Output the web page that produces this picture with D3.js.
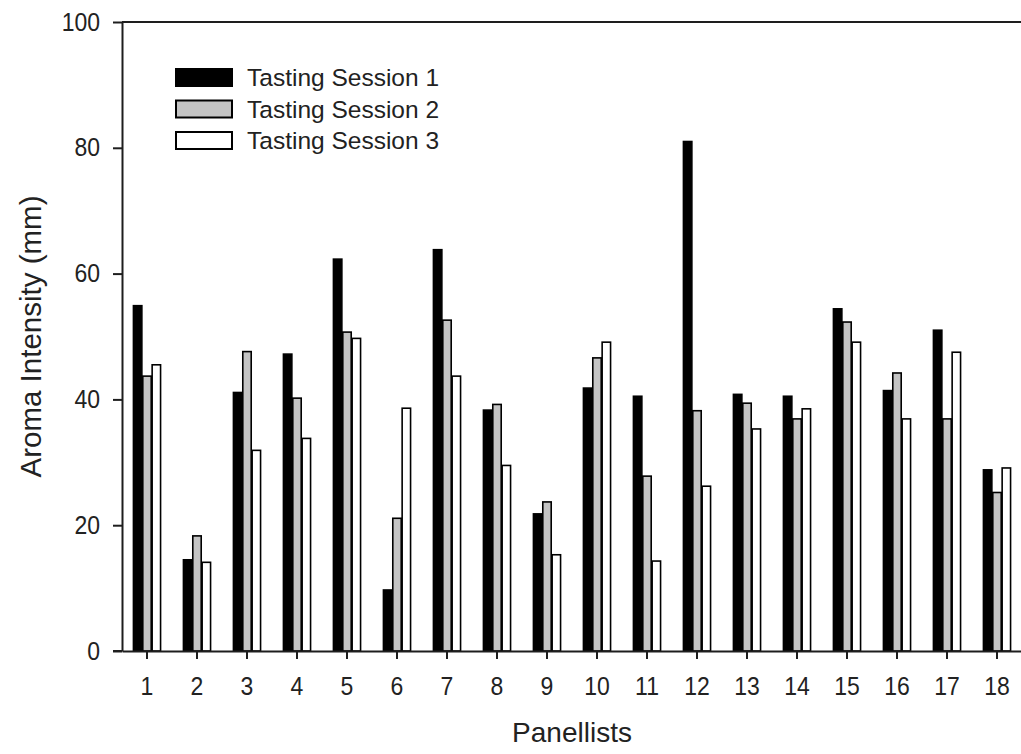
<!DOCTYPE html>
<html>
<head>
<meta charset="utf-8">
<script src="https://cdn.jsdelivr.net/npm/d3@7"></script>
<style>
    body { margin: 0; background: #fff; }
    svg { display: block; font-family: "Liberation Sans", Arial, sans-serif; }
</style>
</head>
<body>
<div id="chart"></div>
<script>
'use strict';

const panellists = ['1', '2', '3', '4', '5', '6', '7', '8', '9', '10', '11', '12', '13', '14', '15', '16', '17', '18'];
const sessionNames = ['Tasting Session 1', 'Tasting Session 2', 'Tasting Session 3'];
const session1 = [54.9, 14.5, 41.1, 47.2, 62.3, 9.7, 63.8, 38.3, 21.8, 41.8, 40.5, 81.0, 40.8, 40.5, 54.4, 41.4, 51.0, 28.8];
const session2 = [43.7, 18.3, 47.6, 40.2, 50.7, 21.1, 52.6, 39.2, 23.7, 46.6, 27.8, 38.2, 39.4, 36.9, 52.3, 44.2, 36.9, 25.2];
const session3 = [45.5, 14.1, 31.9, 33.8, 49.7, 38.6, 43.7, 29.5, 15.3, 49.1, 14.3, 26.2, 35.3, 38.5, 49.1, 36.9, 47.5, 29.1];
const yTicks = [0, 20, 40, 60, 80, 100];

const sessionFills = ['#000000', '#c4c4c4', '#ffffff'];
const lineColour = '#1e1e1e';
const textColour = '#222222';

const width = 1021;
const height = 754;
const margin = { top: 22, right: -1, bottom: 103, left: 122 };
const chartWidth = width - margin.left - margin.right;
const chartHeight = height - margin.top - margin.bottom;

// tick labels in the original look a little stretched vertically
const tickStretch = 1.1;

const svg = d3.select('#chart')
    .append('svg')
    .attr('width', width)
    .attr('height', height);

const chart = svg.append('g')
    .attr('transform', `translate(${margin.left},${margin.top})`);

// scales
const xScale = d3.scaleBand()
    .domain(panellists)
    .range([0, chartWidth])
    .paddingInner(0.42)
    .paddingOuter(0.21);

const xInner = d3.scaleBand()
    .domain(sessionNames)
    .range([0, xScale.bandwidth()])
    .padding(0.1);

const yScale = d3.scaleLinear()
    .domain([0, 100])
    .range([chartHeight, 0]);

// one row per panellist, one value per session
const rows = panellists.map(function (p, i) {
    return {
        panellist: p,
        values: [session1[i], session2[i], session3[i]].map(function (v, j) {
            return { session: sessionNames[j], value: v, index: j };
        })
    };
});

// bars
const groups = chart.selectAll('g.group')
    .data(rows)
    .join('g')
    .attr('class', 'group')
    .attr('transform', function (d) {
        return `translate(${xScale(d.panellist)},0)`;
    });

groups.selectAll('rect')
    .data(function (d) {
        return d.values;
    })
    .join('rect')
    .attr('x', function (d) {
        return xInner(d.session);
    })
    .attr('y', function (d) {
        return yScale(d.value);
    })
    .attr('width', xInner.bandwidth())
    .attr('height', function (d) {
        return chartHeight - yScale(d.value);
    })
    .attr('fill', function (d) {
        return sessionFills[d.index];
    })
    .attr('stroke', '#000')
    .attr('stroke-width', 1.6);

// axes
const xAxis = d3.axisBottom(xScale)
    .tickSize(8)
    .tickPadding(18)
    .tickSizeOuter(0);

const yAxis = d3.axisLeft(yScale)
    .tickValues(yTicks)
    .tickSize(9)
    .tickPadding(13)
    .tickSizeOuter(0);

const xAxisG = chart.append('g')
    .attr('transform', `translate(0,${chartHeight})`)
    .call(xAxis);

const yAxisG = chart.append('g')
    .call(yAxis);

// top frame line
chart.append('line')
    .attr('x1', 0)
    .attr('x2', chartWidth)
    .attr('y1', 0)
    .attr('y2', 0)
    .attr('stroke', lineColour)
    .attr('stroke-width', 2);

[xAxisG, yAxisG].forEach(function (g) {
    g.select('.domain').attr('stroke', lineColour).attr('stroke-width', 2);
    g.selectAll('.tick line').attr('stroke', lineColour).attr('stroke-width', 2);
    g.selectAll('.tick text')
        .attr('fill', textColour)
        .attr('font-size', 23)
        .attr('font-family', '"Liberation Sans", Arial, sans-serif')
        .attr('transform', `scale(1,${tickStretch})`);
});

// compensate the x tick label offset for the stretch
xAxisG.selectAll('.tick text')
    .attr('y', 24);

// extend the x axis line out to the 0 tick
chart.append('line')
    .attr('x1', -9)
    .attr('x2', 0)
    .attr('y1', chartHeight)
    .attr('y2', chartHeight)
    .attr('stroke', lineColour)
    .attr('stroke-width', 2);

// axis titles
svg.append('text')
    .attr('x', margin.left + chartWidth / 2)
    .attr('y', 742)
    .attr('text-anchor', 'middle')
    .attr('font-size', 28)
    .attr('fill', textColour)
    .text('Panellists');

svg.append('text')
    .attr('transform', `translate(41,${margin.top + chartHeight / 2}) rotate(-90)`)
    .attr('text-anchor', 'middle')
    .attr('font-size', 29.5)
    .attr('fill', textColour)
    .text('Aroma Intensity (mm)');

// legend
const legend = svg.append('g')
    .attr('transform', 'translate(176,69)');

const legendRows = legend.selectAll('g.legend-row')
    .data(sessionNames)
    .join('g')
    .attr('class', 'legend-row')
    .attr('transform', function (d, i) {
        return `translate(0,${i * 31.5})`;
    });

legendRows.append('rect')
    .attr('width', 56)
    .attr('height', 17)
    .attr('fill', function (d, i) {
        return sessionFills[i];
    })
    .attr('stroke', '#000')
    .attr('stroke-width', 2);

legendRows.append('text')
    .attr('x', 71)
    .attr('y', 8.5)
    .attr('dy', '0.36em')
    .attr('font-size', 24.5)
    .attr('fill', textColour)
    .text(function (d) {
        return d;
    });
</script>
</body>
</html>
